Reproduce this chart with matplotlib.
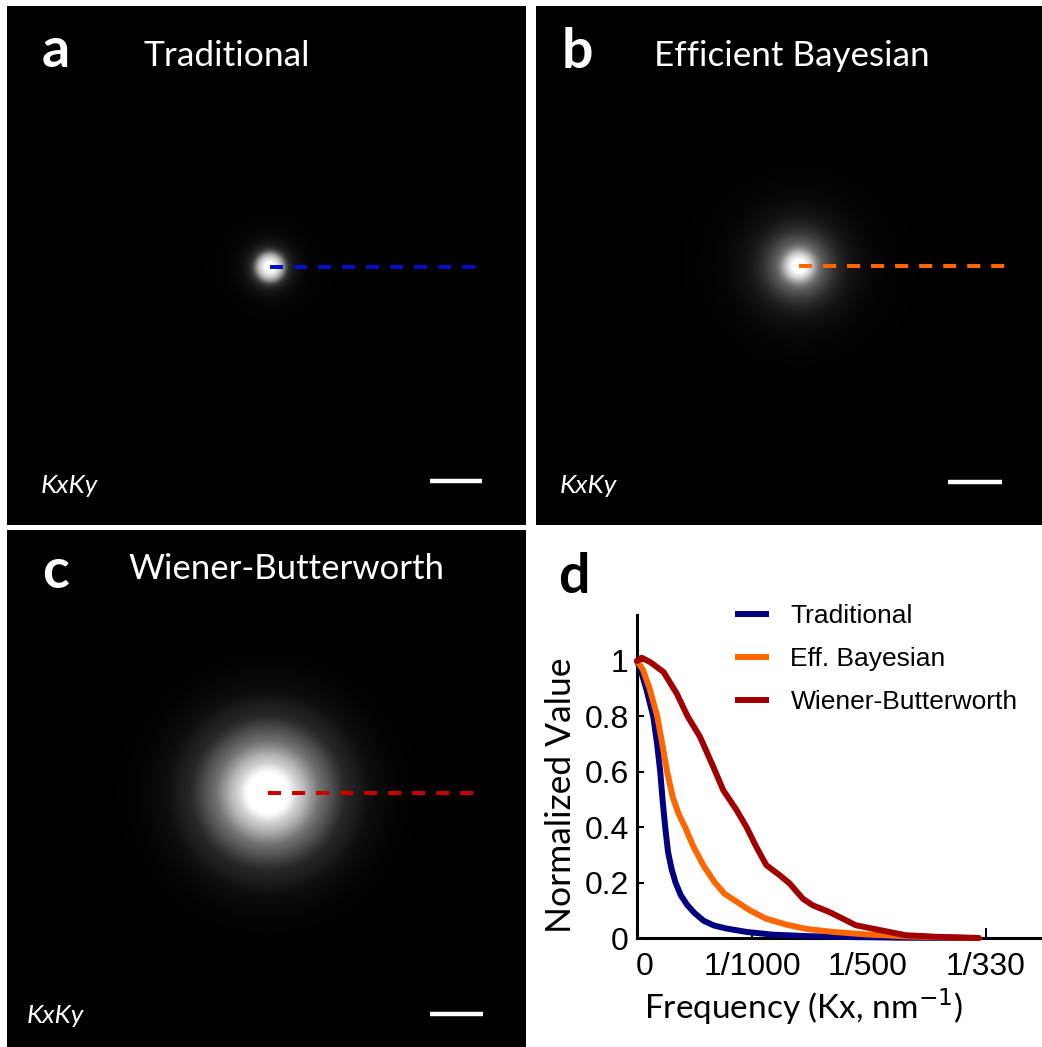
import numpy as np
import matplotlib
matplotlib.use("Agg")
import matplotlib.pyplot as plt
import matplotlib.transforms as mtransforms
from matplotlib.colors import PowerNorm

plt.rcParams["lines.scale_dashes"] = False

# radial profiles along Kx, frequency in units of 1/1000 nm^-1
freq_trad = [0, 0.03, 0.08, 0.141, 0.175, 0.202, 0.222, 0.245, 0.27, 0.30, 0.335, 0.38,
             0.435, 0.50, 0.58, 0.67, 0.78, 0.95, 1.18, 1.47, 1.76, 2.33, 2.97]
val_trad = [1.0, 0.97, 0.90, 0.80, 0.70, 0.60, 0.50, 0.40, 0.31, 0.25, 0.20, 0.155,
            0.12, 0.09, 0.062, 0.045, 0.034, 0.022, 0.012, 0.007, 0.004, 0.001, 0.0]

freq_eb = [0, 0.05, 0.11, 0.176, 0.22, 0.262, 0.31, 0.36, 0.418, 0.49, 0.58, 0.677,
           0.76, 0.87, 0.98, 1.12, 1.30, 1.47, 1.70, 1.99, 2.33, 2.62, 2.97]
val_eb = [1.0, 0.97, 0.90, 0.80, 0.70, 0.60, 0.51, 0.45, 0.40, 0.33, 0.26, 0.20,
          0.16, 0.13, 0.10, 0.07, 0.048, 0.033, 0.022, 0.013, 0.006, 0.003, 0.0]

freq_wb = [0, 0.04, 0.115, 0.231, 0.346, 0.44, 0.548, 0.663, 0.749, 0.865, 0.951, 1.037,
           1.124, 1.239, 1.326, 1.441, 1.527, 1.671, 1.758, 1.902, 2.046, 2.19, 2.334,
           2.622, 2.968]
val_wb = [1.0, 1.012, 0.996, 0.96, 0.882, 0.80, 0.726, 0.618, 0.534, 0.462, 0.401, 0.329,
          0.263, 0.227, 0.197, 0.142, 0.118, 0.094, 0.076, 0.046, 0.034, 0.022, 0.010,
          0.004, 0.0]

titles = ["Traditional", "Efficient Bayesian", "Wiener-Butterworth"]
legend_labels = ["Traditional", "Eff. Bayesian", "Wiener-Butterworth"]
letters = ["a", "b", "c", "d"]
line_colors = ["#000080", "#ff6600", "#a00000"]
dash_colors = ["#0010c8", "#ff6600", "#c80000"]

xtick_pos = [0, 1.0, 2.0]
xtick_labels = ["0", "1/1000", "1/500"]
cutoff = 1000 / 330
ytick_pos = [0, 0.2, 0.4, 0.6, 0.8, 1.0]
ytick_labels = ["0", "0.2", "0.4", "0.6", "0.8", "1"]

profiles = [(freq_trad, val_trad), (freq_eb, val_eb), (freq_wb, val_wb)]

W, H = 1042, 1047
fig = plt.figure(figsize=(W / 100, H / 100), dpi=100)
fig.patch.set_facecolor("white")

TXT = "Lato"
NUM = "Liberation Sans"


def px_axes(x0, y0, x1, y1):
    return fig.add_axes([x0 / W, 1 - y1 / H, (x1 - x0) / W, (y1 - y0) / H])


def px_text(x, y, s, **kw):
    fig.text(x / W, 1 - y / H, s, va="baseline", ha="left", **kw)


# image panels: box in pixels, blob centre in pixels, text anchors
panels = [
    dict(box=(7, 6, 526, 525), c=(270, 267), letter=(42, 67), title=(143, 66), kk=(41, 493), bar=(430, 482, 481)),
    dict(box=(536, 6, 1042, 525), c=(799, 266), letter=(562, 68), title=(654, 66), kk=(560, 493), bar=(948, 1002, 482)),
    dict(box=(7, 530, 526, 1047), c=(268, 793), letter=(42, 588), title=(128, 579), kk=(27, 1023), bar=(430, 483, 1014)),
]
title_sizes = [25.5, 25.2, 25.0]
px_per_unit = 210 / cutoff  # dashed line spans 0 .. 1/330

for i, p in enumerate(panels):
    x0, y0, x1, y1 = p["box"]
    cx, cy = p["c"]
    ax = px_axes(x0, y0, x1, y1)
    xl = ((x0 - cx) / px_per_unit, (x1 - cx) / px_per_unit)
    yl = (-(y1 - cy) / px_per_unit, (cy - y0) / px_per_unit)
    gx = np.linspace(xl[0], xl[1], x1 - x0)
    gy = np.linspace(yl[0], yl[1], y1 - y0)
    X, Y = np.meshgrid(gx, gy)
    f, v = profiles[i]
    img = np.interp(np.hypot(X, Y), f, v, right=0.0)
    ax.imshow(img, cmap="gray", norm=PowerNorm(gamma=1.5, vmin=0, vmax=0.92, clip=True),
              origin="lower", extent=(xl[0], xl[1], yl[0], yl[1]),
              interpolation="bilinear", aspect="auto")
    ax.plot([0, cutoff], [0, 0], color=dash_colors[i], lw=2.9, dashes=(9.4, 7.9))
    bx0, bx1, by = p["bar"]
    ax.plot([(bx0 - cx) / px_per_unit, (bx1 - cx) / px_per_unit],
            [(cy - by) / px_per_unit] * 2, color="white", lw=3.2, solid_capstyle="butt")
    ax.set_xlim(xl)
    ax.set_ylim(yl)
    ax.axis("off")

    px_text(*p["letter"], letters[i], color="white", fontsize=40, fontweight="bold", family=TXT)
    px_text(*p["title"], titles[i], color="white", fontsize=title_sizes[i], family=TXT)
    px_text(*p["kk"], "KxKy", color="white", fontsize=19, style="italic", family=TXT)

# panel d: line profiles
ax = px_axes(637, 615, 1042, 938)
for (f, v), col, lab in zip(profiles, line_colors, legend_labels):
    ax.plot(np.array(f) / 1000, v, color=col, lw=4.3, label=lab,
            solid_joinstyle="round", solid_capstyle="round", clip_on=False, zorder=3)
ax.set_xlim(0, 3.52e-3)
ax.set_ylim(0, 1.166)
for s in ["top", "right"]:
    ax.spines[s].set_visible(False)
for s in ["left", "bottom"]:
    ax.spines[s].set_linewidth(2.2)

ax.set_xticks(np.array(xtick_pos) / 1000)
ax.set_xticklabels(xtick_labels)
ax.set_xticks([cutoff / 1000], minor=True)
ax.set_xticklabels(["1/330"], minor=True)
ax.set_yticks(ytick_pos)
ax.set_yticklabels(ytick_labels)
ax.tick_params(axis="x", which="major", direction="in", length=3, width=1.5, pad=10,
               labelsize=23)
ax.tick_params(axis="x", which="minor", direction="in", length=7, width=1.5, pad=10,
               labelsize=23)
ax.tick_params(axis="y", direction="in", length=5, width=1.5, pad=6, labelsize=23)
for lbl in ax.get_xticklabels() + ax.get_xticklabels(minor=True) + ax.get_yticklabels():
    lbl.set_fontfamily(NUM)
# nudge the "0" label right as in the original
ax.get_xticklabels()[0].set_transform(
    ax.get_xticklabels()[0].get_transform()
    + mtransforms.ScaledTranslation(8 / 100, 0, fig.dpi_scale_trans))

ax.set_ylabel("Normalized Value", fontsize=25.5, family=TXT, labelpad=5)
ax.set_xlabel("Frequency (Kx, nm$^{-1}$)", fontsize=24, family=TXT, labelpad=5)
ax.xaxis.set_label_coords(0.412, -0.15)
ax.yaxis.label.set_y(0.443)

leg = ax.legend(loc="upper left", bbox_to_anchor=(735 / W, 1 - 604 / H),
                bbox_transform=fig.transFigure, frameon=False, fontsize=19,
                handlelength=1.3, handletextpad=0.8, labelspacing=0.72,
                borderpad=0, borderaxespad=0)
for t in leg.get_texts():
    t.set_fontfamily(NUM)
for h in leg.get_lines():
    h.set_linewidth(4.3)
    h.set_solid_capstyle("butt")

px_text(558, 593, letters[3], color="black", fontsize=40, fontweight="bold", family=TXT)

fig.savefig("out.png", dpi=100, facecolor="white")
